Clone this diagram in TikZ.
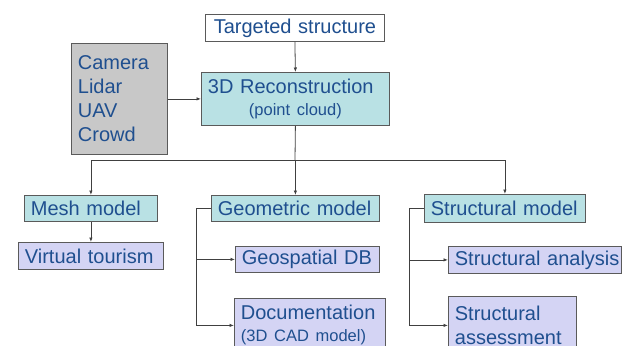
\documentclass[tikz,border=0pt]{standalone}
\usepackage{fontspec}
\setmainfont{Liberation Sans}
\usetikzlibrary{arrows.meta}
\definecolor{txt}{HTML}{1F4F8F}
\definecolor{cyanf}{HTML}{B9E1E4}
\definecolor{lavf}{HTML}{D4D4F4}
\definecolor{grayf}{HTML}{C8C8C8}
\definecolor{bord}{HTML}{5A5A5A}
\definecolor{linec}{HTML}{404040}
\begin{document}
\begin{tikzpicture}[x=1pt,y=-1pt,
  base/.style={draw=bord, line width=0.8pt, anchor=north west, inner xsep=6.5pt, inner ysep=0pt,
    font=\fontsize{20}{24}\selectfont, text=txt, align=left},
  cbox/.style={base, fill=cyanf},
  pbox/.style={base, fill=lavf},
  gbox/.style={base, fill=grayf},
  wbox/.style={base, fill=white, align=center},
  conn/.style={draw=linec, line width=0.8pt, -{Latex[length=4.5pt,width=3.5pt]}},
  plain/.style={draw=linec, line width=0.8pt}]
\useasboundingbox (0,0) rectangle (628,345);
\clip (0,0) rectangle (628,345);

\node[wbox, text width=166pt, minimum height=27pt] (tgt) at (205,14) {Targeted structure};
\node[gbox, text width=83pt, minimum height=111pt] (src) at (71,43) {Camera\\Lidar\\UAV\\Crowd};
\node[cbox, text width=175pt, minimum height=53pt] (rec) at (201,72)
  {3D Reconstruction\\[-2pt]\hspace*{\fill}{\fontsize{16.5}{20}\selectfont(point cloud)}\hspace*{\fill}};

\node[cbox, text width=120pt, minimum height=26pt] (mesh) at (24,195) {Mesh model};
\node[pbox, text width=132pt, minimum height=27pt] (vt) at (18,242) {Virtual tourism};

\node[cbox, text width=155pt, minimum height=26pt] (geo) at (211,195) {Geometric model};
\node[pbox, text width=131pt, minimum height=26pt] (gdb) at (235,246) {Geospatial DB};
\node[pbox, text width=138pt, minimum height=54pt] (doc) at (234,298)
  {Documentation\\[-2pt]{\fontsize{16.5}{20}\selectfont(3D CAD model)}};

\node[cbox, text width=148pt, minimum height=28pt] (sm) at (424,194) {Structural model};
\node[pbox, text width=160pt, minimum height=27pt] (sa) at (448,246) {\mbox{Structural analysis}};
\node[pbox, text width=115pt, minimum height=58pt] (sass) at (448,296) {Structural\\assessment};

\coordinate (split) at (295,160);
\coordinate (gx) at (196,0);
\coordinate (sx) at (409,0);

\draw[conn] (tgt.south) -- (rec.north);
\draw[conn] (src.east) -- (rec.west);
\draw[plain] (rec.south) -- (split);
\draw[conn] (split) -- (split -| geo.north) -- (geo.north);
\draw[conn] (split) -| (mesh.north);
\draw[conn] (split) -| (sm.north);
\draw[conn] (mesh.south) -- (vt.north);

\draw[conn] (geo.west) -- (geo.west -| gx) |- (doc.west);
\draw[conn] (gdb.west -| gx) -- (gdb.west);
\draw[conn] (sm.west) -- (sm.west -| sx) |- (sass.west);
\draw[conn] (sa.west -| sx) -- (sa.west);
\end{tikzpicture}
\end{document}
